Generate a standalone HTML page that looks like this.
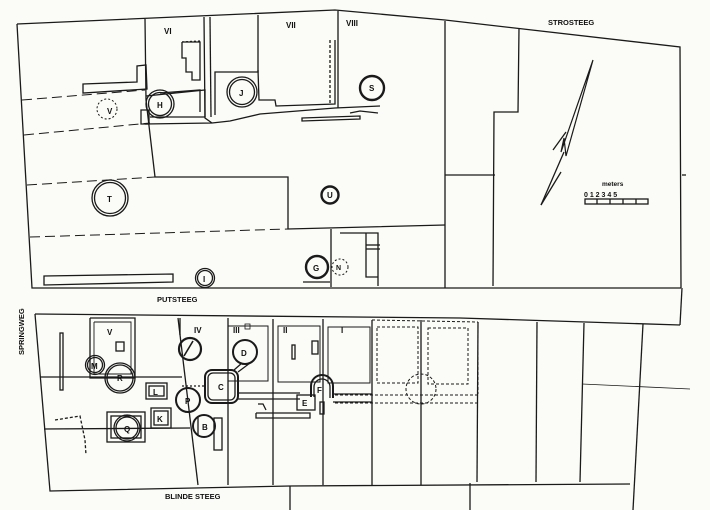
<!DOCTYPE html>
<html><head><meta charset="utf-8"><style>
html,body{margin:0;padding:0;background:#fbfbf7;}
svg{display:block}
text{font-family:"Liberation Sans",sans-serif;font-weight:bold;fill:#111}
</style></head><body>
<svg width="710" height="510" viewBox="0 0 710 510" xmlns="http://www.w3.org/2000/svg">
<rect width="710" height="510" fill="#fbfbf7"/>
<g fill="none" stroke="#1a1a1a" stroke-width="1.3">
<!-- TOP BLOCK outline -->
<polyline points="17,24 335,10 445,20 680,47 681,288"/>
<polyline points="17,24 32,288 681,288"/>
<!-- interior lines -->
<polyline points="145,19 146,100 155,177 288,177 288,229 445,225"/>
<line x1="445" y1="21" x2="445" y2="288"/>
<polyline points="519,28 518,112 494,112 493,286"/>
<line x1="445" y1="175" x2="495" y2="175"/>
<line x1="445" y1="225" x2="445" y2="225"/>
<line x1="682" y1="175" x2="686" y2="175"/>
<!-- dashed lot lines -->
<g stroke-dasharray="10,5" stroke-width="1">
<line x1="22" y1="100" x2="145" y2="90"/>
<line x1="24" y1="135" x2="150" y2="123"/>
<line x1="27" y1="185" x2="155" y2="177"/>
<line x1="30" y1="237" x2="288" y2="229"/>
</g>
<!-- wall left -->
<polygon points="83,84 137,82 137,66 146,65 147,89 83,93"/>
<!-- bottom bar -->
<polygon points="44,276 173,274 173,282 44,285"/>
<!-- complex VI/VII/VIII -->
<polyline points="204,17 205,118 212,123"/>
<polyline points="210,17 211,117"/>
<polyline points="258,15 258,72 215,72 215,115"/>
<polyline points="258,70 259,100 275,100 276,106 335,104 335,40"/>
<line x1="330" y1="40" x2="330" y2="104" stroke-dasharray="3,2"/>
<line x1="338" y1="11" x2="338" y2="108"/>
<polyline points="146,96 205,90 205,117"/>
<polyline points="160,93 200,90 200,112"/>
<polyline points="150,117 205,117"/>
<polyline points="145,124 212,123 230,121 260,114 335,108 380,106"/>
<polyline points="182,42 200,42 200,80 192,80 192,72 186,72 186,58 182,58 182,42"/>
<polyline points="182,42 200,41" stroke-dasharray="2,2"/>
<polygon points="141,110 149,110 149,124 141,124"/>
<polygon points="302,118 360,116 360,119 302,121"/>
<polyline points="350,113 360,111 378,113"/>
<!-- right lower structure near G -->
<line x1="331" y1="229" x2="331" y2="287"/>
<polyline points="340,233 378,233 378,286"/>
<polyline points="366,233 366,277 378,277"/>
<line x1="366" y1="245" x2="380" y2="245"/>
<line x1="366" y1="249" x2="380" y2="249"/>
<polyline points="303,282 330,282"/>
<!-- circles top -->
<circle cx="107" cy="109" r="10" stroke-dasharray="2,2" stroke-width="1"/>
<circle cx="110" cy="198" r="18"/><circle cx="110" cy="198" r="15.5"/>
<circle cx="160" cy="104" r="14"/><circle cx="160" cy="104" r="11.5"/>
<circle cx="242" cy="92" r="15"/><circle cx="242" cy="92" r="12.5"/>
<circle cx="372" cy="88" r="12" stroke-width="2.4"/>
<circle cx="330" cy="195" r="8.5" stroke-width="2.4"/>
<circle cx="317" cy="267" r="11" stroke-width="2.4"/>
<circle cx="340" cy="267" r="8" stroke-dasharray="2,2" stroke-width="1"/>
<circle cx="205" cy="278" r="9.5"/><circle cx="205" cy="278" r="7.5"/>

<!-- BOTTOM BLOCK outline -->
<polyline points="35,314 460,318 680,325 678,325"/>
<line x1="682" y1="288" x2="680" y2="325"/>
<polyline points="35,314 50,491 290,486 630,484"/>
<line x1="290" y1="486" x2="290" y2="510"/>
<line x1="470" y1="483" x2="470" y2="510"/>
<line x1="178" y1="318" x2="198" y2="485"/>
<line x1="228" y1="318" x2="228" y2="485"/>
<line x1="273" y1="319" x2="273" y2="485"/>
<line x1="323" y1="319" x2="323" y2="485"/>
<line x1="372" y1="320" x2="372" y2="485"/>
<line x1="421" y1="320" x2="421" y2="485"/>
<line x1="478" y1="322" x2="477" y2="482"/>
<line x1="537" y1="322" x2="536" y2="482"/>
<line x1="584" y1="323" x2="580" y2="482"/>
<line x1="643" y1="324" x2="633" y2="510"/>
<line x1="582" y1="384" x2="690" y2="389" stroke-width="0.8"/>
<line x1="40" y1="377" x2="182" y2="377"/>
<line x1="44" y1="429" x2="190" y2="428"/>
<!-- room rects -->
<rect x="228" y="326" width="40" height="55" stroke-width="1"/>
<rect x="278" y="326" width="42" height="56" stroke-width="1"/>
<rect x="328" y="327" width="42" height="56" stroke-width="1"/>
<g stroke-dasharray="3,2" stroke-width="1">
<rect x="377" y="327" width="41" height="56"/>
<rect x="428" y="328" width="40" height="56"/>
<line x1="372" y1="320" x2="478" y2="322"/>
<line x1="478" y1="322" x2="478" y2="394"/>
<circle cx="421" cy="389" r="15"/>
<line x1="335" y1="395" x2="478" y2="395"/>
<line x1="335" y1="403" x2="478" y2="403"/>
</g>
<line x1="180" y1="318" x2="180" y2="335"/>
<!-- V room -->
<polyline points="90,318 135,318 135,378 90,378 90,318"/>
<polyline points="94,322 131,322 131,374 94,374 94,322" stroke-width="0.9"/>
<rect x="116" y="342" width="8" height="9"/>
<circle cx="95" cy="365" r="9.5"/><circle cx="95" cy="365" r="7.5"/>
<circle cx="120" cy="378" r="15"/><circle cx="120" cy="378" r="13"/>
<rect x="60" y="333" width="3" height="57"/>
<polyline points="55,420 80,416 85,440 86,455" stroke-dasharray="3,2"/>
<rect x="146" y="383" width="21" height="16"/><rect x="149" y="386" width="15" height="10"/>
<rect x="151" y="408" width="20" height="20"/><rect x="154" y="411" width="14" height="14"/>
<rect x="107" y="412" width="38" height="30"/><rect x="111" y="416" width="30" height="22"/>
<circle cx="127" cy="428" r="13"/><circle cx="127" cy="428" r="11"/>
<circle cx="188" cy="400" r="12" stroke-width="2"/>
<circle cx="204" cy="426" r="11" stroke-width="2"/>
<line x1="198" y1="417" x2="198" y2="435"/>
<rect x="214" y="418" width="8" height="32"/>
<circle cx="190" cy="349" r="11" stroke-width="2.2"/>
<line x1="184" y1="356" x2="193" y2="341" stroke-width="1.6"/>
<circle cx="245" cy="352" r="12" stroke-width="2"/>
<line x1="234" y1="370" x2="242" y2="363"/><line x1="238" y1="372" x2="250" y2="363"/>
<rect x="205" y="370" width="33" height="33" rx="7" stroke-width="2"/>
<rect x="208" y="373" width="27" height="27" rx="5"/>
<line x1="182" y1="386" x2="205" y2="386" stroke-dasharray="2,2"/>
<line x1="238" y1="393" x2="300" y2="393"/>
<line x1="238" y1="399" x2="300" y2="399"/>
<rect x="297" y="395" width="18" height="15"/>
<path d="M311,397 L311,386 A11,11 0 0 1 333,386 L333,398" stroke-width="2"/>
<path d="M314,397 L314,387 A8,8 0 0 1 330,387 L330,398"/>
<polyline points="256,413 310,413 310,418 256,418 256,413"/>
<polyline points="258,404 263,404 266,410"/>
<rect x="320" y="402" width="4" height="12"/>
<polyline points="333,394 372,394"/><polyline points="333,402 372,402"/>
<rect x="292" y="345" width="3" height="14"/>
<rect x="312" y="341" width="6" height="13"/>
<rect x="245" y="324" width="5" height="5" stroke-width="0.8"/>
<!-- north arrow -->
<polyline points="593,60 561,152 564,138 566,156 593,60" stroke-width="1.2"/>
<line x1="553" y1="150" x2="566" y2="132"/>
<line x1="564" y1="152" x2="541" y2="205"/>
<line x1="561" y1="172" x2="541" y2="205"/>
<!-- scale -->
<rect x="585" y="199" width="63" height="5"/>
<line x1="597" y1="199" x2="597" y2="204"/><line x1="610" y1="199" x2="610" y2="204"/>
<line x1="623" y1="199" x2="623" y2="204"/><line x1="636" y1="199" x2="636" y2="204"/>
</g>
<g font-size="8">
<text x="164" y="34">VI</text><text x="286" y="28">VII</text><text x="346" y="26">VIII</text>
<text x="107" y="114" font-weight="normal">V</text>
<text x="107" y="202">T</text><text x="157" y="108">H</text><text x="239" y="96">J</text>
<text x="369" y="91">S</text><text x="327" y="198">U</text><text x="313" y="271">G</text>
<text x="336" y="270" font-size="7">N</text><text x="203" y="282">I</text>
<text x="107" y="335">V</text><text x="194" y="333">IV</text><text x="233" y="333">III</text>
<text x="283" y="333">II</text><text x="341" y="333">I</text>
<text x="91" y="369">M</text><text x="117" y="381">R</text><text x="153" y="395">L</text>
<text x="157" y="422">K</text><text x="124" y="432">Q</text><text x="185" y="404">P</text>
<text x="202" y="430">B</text><text x="241" y="356">D</text><text x="218" y="390">C</text>
<text x="302" y="406">E</text><text x="317" y="393">F</text>
</g>
<g font-size="7.5">
<text x="157" y="302">PUTSTEEG</text>
<text x="165" y="499">BLINDE STEEG</text>
<text x="548" y="25">STROSTEEG</text>
<text transform="translate(24,355) rotate(-90)">SPRINGWEG</text>
<text x="602" y="186" font-size="6.5">meters</text>
<text x="584" y="197" font-size="7" font-weight="normal">0 1 2 3 4 5</text>
</g>
</svg>
</body></html>
